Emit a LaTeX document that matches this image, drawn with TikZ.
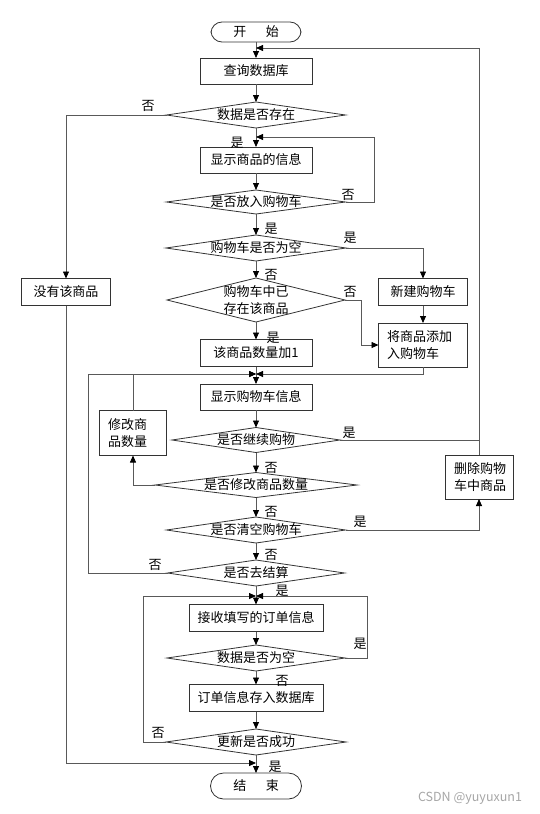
\documentclass[tikz,border=0pt]{standalone}
\usepackage{fontspec}
\setmainfont{Noto Sans CJK SC}
\usetikzlibrary{shapes.geometric,arrows.meta}

\begin{document}
\begin{tikzpicture}[x=1pt,y=-1pt,
  every node/.style={font=\fontsize{13}{17}\selectfont},
  box/.style={draw=black!80,line width=0.8pt,minimum height=27pt,inner sep=0pt,outer sep=0pt},
  dec/.style={draw=black!80,line width=0.8pt,diamond,aspect=7,inner sep=-2pt,outer sep=0pt,minimum height=26pt},
  term/.style={draw=black!80,line width=0.8pt,rounded corners=11pt,minimum width=90pt,inner sep=0pt,outer sep=0pt},
  flow/.style={draw=black!65,line width=0.8pt,-{Triangle[length=7pt,width=6pt,color=black]}},
  lbl/.style={inner sep=0pt}]
\useasboundingbox (0,0) rectangle (539,814);

% main column
\node[term,minimum height=20pt] (start) at (256,32) {开\hspace{1.5em}始};
\node[box,minimum width=112pt,minimum height=26pt] (query) at (256,71) {查询数据库};
\node[dec,minimum width=179pt] (d1) at (256,115) {数据是否存在};
\node[box,minimum width=112pt,minimum height=26pt] (show) at (256,160) {显示商品的信息};
\node[dec,minimum width=179pt,minimum height=24pt] (d2) at (256,202) {是否放入购物车};
\node[dec,minimum width=180pt] (d3) at (256,248) {购物车是否为空};
\node[dec,minimum width=178pt,minimum height=44pt,aspect=4,inner sep=-5pt,align=center] (d4) at (256,300) {购物车中已\\存在该商品};
\node[box,minimum width=112pt] (inc) at (256,353) {该商品数量加1};
\node[box,minimum width=112pt,minimum height=26pt] (cart) at (256,397) {显示购物车信息};
\node[dec,minimum width=168pt,minimum height=25pt] (d5) at (256,440) {是否继续购物};
\node[dec,minimum width=202pt,minimum height=25pt] (d6) at (256,485) {是否修改商品数量};
\node[dec,minimum width=179pt] (d7) at (256,530) {是否清空购物车};
\node[dec,minimum width=177pt] (d8) at (256,573) {是否去结算};
\node[box,minimum width=134pt] (recv) at (256,618) {接收填写的订单信息};
\node[dec,minimum width=178pt] (d9) at (256,658) {数据是否为空};
\node[box,minimum width=134pt] (store) at (256,698) {订单信息存入数据库};
\node[dec,minimum width=180pt] (d10) at (256,742) {更新是否成功};
\node[term,minimum height=26pt,minimum width=91pt,rounded corners=13pt] (finish) at (256,786) {结\hspace{1.5em}束};

% side boxes
\node[box,minimum width=89pt] (none) at (66,292) {没有该商品};
\node[box,minimum width=89pt] (new) at (423,292) {新建购物车};
\node[box,minimum width=89pt,minimum height=44pt,text width=72pt,align=left] (add) at (423,345) {将商品添加\\入购物车};
\node[box,minimum width=67pt,minimum height=45pt,text width=50pt,align=left] (modify) at (133,433) {修改商\\品数量};
\node[box,minimum width=68pt,minimum height=44pt,text width=50pt,align=left] (del) at (479,477) {删除购物\\车中商品};

% joins on the main column
\coordinate (j0) at (256,48);
\coordinate (j1) at (256,137);
\coordinate (j2) at (256,374);
\coordinate (j3) at (256,596);
\coordinate (j4) at (256,763);

\draw[flow] (start) -- (query);
\draw[flow] (query) -- (d1);
\draw[flow] (d1) -- (show);
\draw[flow] (d1.west) -| (none);
\draw[flow] (show) -- (d2);
\draw[flow] (d2.east) -- ++(29,0) |- (j1);
\draw[flow] (d2) -- (d3);
\draw[flow] (d3.east) -| (new);
\draw[flow] (d3) -- (d4);
\draw[flow] (d4.east) -- ++(16,0) |- (add.west);
\draw[flow] (d4) -- (inc);
\draw[flow] (new) -- (add);
\draw[flow] (inc) -- (cart);
\draw[flow] (add.south) |- (j2);
\draw[flow] (cart) -- (d5);
\draw[draw=black!65,line width=0.8pt] (d5.east) -- (d5.east -| del.north);
\draw[flow] (del.north) |- (j0);
\draw[flow] (d5) -- (d6);
\draw[flow] (d6.west) -| (modify.south);
\draw[flow] (modify.north) |- (j2);
\draw[flow] (d6) -- (d7);
\draw[flow] (d7.east) -| (del.south);
\draw[flow] (d7) -- (d8);
\draw[flow] (d8.west) -- ++(-79,0) |- (j2);
\draw[flow] (d8) -- (recv);
\draw[flow] (recv) -- (d9);
\draw[flow] (d9.east) -- ++(22,0) |- (j3);
\draw[flow] (d9) -- (store);
\draw[flow] (store) -- (d10);
\draw[flow] (d10.west) -- ++(-23,0) |- (j3);
\draw[flow] (d10) -- (finish);
\draw[flow] (none) |- (j4);

% yes / no
\node[lbl] (n1) at (148,106) {否};
\node[lbl] (y1) at (237,143) {是};
\node[lbl] (n2) at (348,195) {否};
\node[lbl] (y2) at (271,229) {是};
\node[lbl] (y3) at (350,238) {是};
\node[lbl] (n3) at (271,275) {否};
\node[lbl] (n4) at (350,292) {否};
\node[lbl] (y4) at (273,338) {是};
\node[lbl] (y5) at (349,433) {是};
\node[lbl] (n5) at (271,468) {否};
\node[lbl] (n6) at (271,512) {否};
\node[lbl] (y7) at (360,522) {是};
\node[lbl] (n7) at (271,555) {否};
\node[lbl] (n8) at (155,565) {否};
\node[lbl] (y8) at (282,591) {是};
\node[lbl] (y9) at (360,644) {是};
\node[lbl] (n9) at (282,681) {否};
\node[lbl] (n10) at (158,733) {否};
\node[lbl] (y10) at (275,767) {是};

\node[text=black!35,font=\fontsize{12.5}{14}\selectfont] (mark) at (470,798) {CSDN @yuyuxun1};
\end{tikzpicture}
\end{document}
